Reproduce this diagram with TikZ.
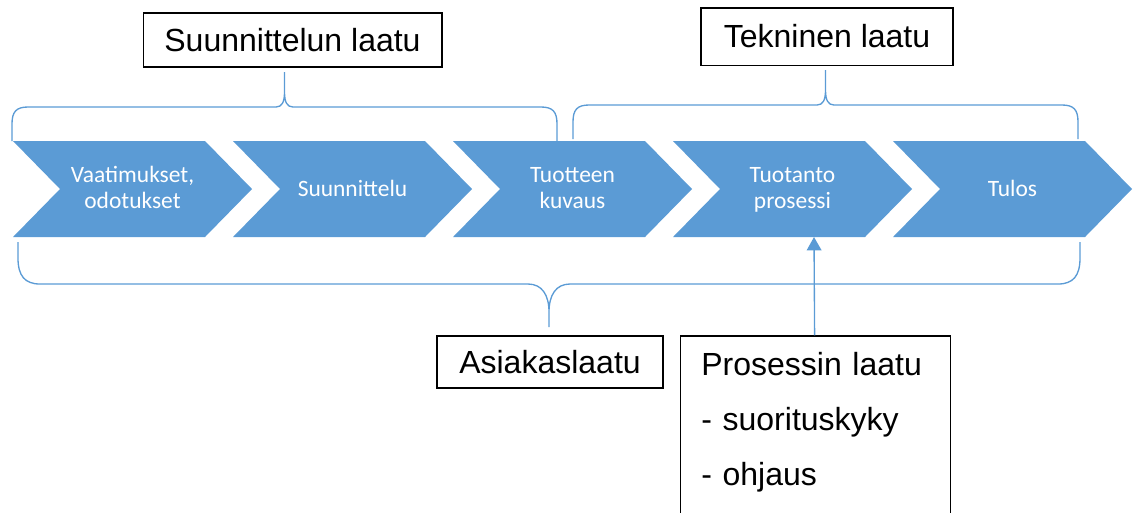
\documentclass[tikz,border=0pt]{standalone}
\usepackage{fontspec}
\setmainfont{Liberation Sans}
\newfontfamily\calibrifont{Carlito}
\usetikzlibrary{positioning,arrows.meta}
\definecolor{chBlue}{RGB}{91,155,213}
\tikzset{
    base/.style={align=center},
    chevron/.style={fill=chBlue},
    phase/.style={base, anchor=base, font=\calibrifont\fontsize{17.6}{19.5}\selectfont, text=white},
    quality/.style={base, rectangle, draw=black, line width=1pt, fill=white,
                    font=\fontsize{24}{28}\selectfont, inner sep=0pt},
    procbox/.style={quality, align=left, text width=171pt, inner xsep=15.75pt,
                    inner ysep=12pt, text depth=130pt,
                    font=\fontsize{24}{41.25}\selectfont},
    brace/.style={draw=chBlue, line width=1pt},
    flow/.style={-{Triangle[length=10pt,width=11pt]}, chBlue, line width=1pt}
}
\begin{document}
\begin{tikzpicture}[x=0.75pt, y=-0.75pt]
  \useasboundingbox (0,0) rectangle (1134,512);
  \clip (0,0) rectangle (1134,512);

  % Process chevrons
  \foreach \i in {0,...,4}
    \fill[chevron] ({13+220*\i},141) -- ++(192,0) -- ++(47,48) -- ++(-47,48)
      -- ++(-192,0) -- ++(47,-48) -- cycle;

  % Phase labels (last baseline)
  \node[phase] (vaat) at (132.5,208.5) {Vaatimukset,\\odotukset};
  \node[phase] (suun) at (352.5,196) {Suunnittelu};
  \node[phase] (kuva) at (572.5,208.5) {Tuotteen\\kuvaus};
  \node[phase] (tuot) at (792.5,208.5) {Tuotanto\\prosessi};
  \node[phase] (tulos) at (1012.5,196) {Tulos};
  \coordinate (tuotb) at (814,237);

  % Quality boxes
  \node[quality, minimum width=224pt, minimum height=40.5pt] (suunlaatu) at (292.5,40) {Suunnittelun laatu};
  \node[quality, minimum width=189pt, minimum height=43pt] (teklaatu) at (827,36.5) {Tekninen laatu};
  \node[quality, minimum width=169.5pt, minimum height=39pt] (asiakas) at (550,362) {Asiakaslaatu};
  \node[procbox, right=12pt of asiakas.north east, anchor=north west] (prosessi)
    {Prosessin laatu\\- suorituskyky\\- ohjaus};

  % Braces
  \draw[brace] (12,141) -- (12,124) .. controls (12,112) and (16,107) .. (28,107)
    -- (276,107) .. controls (282,107) and (284.5,102) .. (284.5,92) -- (284.5,72)
    -- (284.5,92) .. controls (284.5,102) and (287,107) .. (293,107)
    -- (541,107) .. controls (553,107) and (557,112) .. (557,124) -- (557,141);
  \draw[brace] (573,139) -- (573,122) .. controls (573,110) and (577,105) .. (589,105)
    -- (817,105) .. controls (823,105) and (825.5,100) .. (825.5,90) -- (825.5,70)
    -- (825.5,90) .. controls (825.5,100) and (828,105) .. (834,105)
    -- (1062,105) .. controls (1074,105) and (1078,110) .. (1078,122) -- (1078,139);
  \draw[brace] (18,242) -- (18,258) .. controls (18,276) and (25,284) .. (40,284)
    -- (528,284) .. controls (542,284) and (549,295) .. (549,312) -- (549,327)
    -- (549,312) .. controls (549,295) and (556,284) .. (570,284)
    -- (1058,284) .. controls (1073,284) and (1080,276) .. (1080,258) -- (1080,242);

  % Arrow to production
  \draw[flow] (prosessi) -- (tuotb);
\end{tikzpicture}
\end{document}
